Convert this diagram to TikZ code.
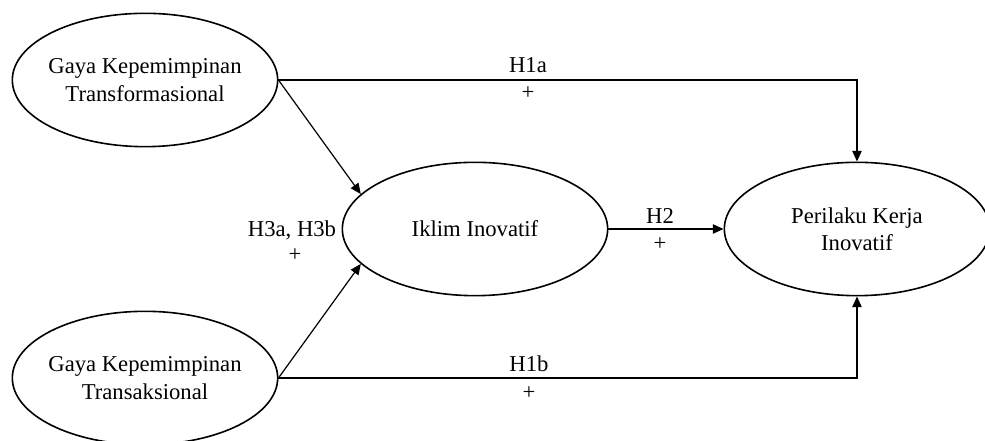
\documentclass[tikz,border=0pt]{standalone}
\usepackage{fontspec}
\setmainfont{Liberation Serif}
\usetikzlibrary{arrows.meta, positioning, shapes.geometric}

\tikzset{
  construct/.style={draw, ellipse, line width=1.2pt, inner xsep=-6pt, inner ysep=0pt,
      minimum width=199pt, minimum height=100pt, align=center,
      font=\fontsize{17}{20.5}\selectfont},
  patharrow/.style={-{Triangle[length=8pt,width=7pt]}, line width=0.9pt},
  hyplabel/.style={font=\fontsize{17}{20}\selectfont, inner sep=0pt}
}

\begin{document}
\begin{tikzpicture}[x=0.75pt, y=0.75pt]
\useasboundingbox (0,0) rectangle (985,441);

% Constructs
\node[construct] (tf) at (145,361) {Gaya Kepemimpinan\\Transformasional};
\node[construct] (ta) at (145,63) {Gaya Kepemimpinan\\Transaksional};
\node[construct] (ik) at (475,212) {Iklim Inovatif};
\node[construct] (pk) at (857,212) {Perilaku Kerja\\Inovatif};

% Direct paths
\draw[patharrow] (tf.east) -| (pk.north);
\draw[patharrow] (ta.east) -| (pk.south);
\draw[patharrow] (ik.east) -- (pk.west);

% Paths to the mediator
\draw[patharrow] (tf.east) -- (ik.163);
\draw[patharrow] (ta.east) -- (ik.197);

% Hypothesis labels
\node[hyplabel] (h1a) at (528,376) {H1a};
\node[hyplabel] (h1aplus) at (528,348) {+};
\node[hyplabel] (h1b) at (529,77) {H1b};
\node[hyplabel] (h1bplus) at (529,48) {+};
\node[hyplabel] (h2) at (660,225) {H2};
\node[hyplabel] (h2plus) at (660,197) {+};
\node[hyplabel] (h3) at (292,211) {H3a, H3b};
\node[hyplabel] (h3plus) at (295,186) {+};

\end{tikzpicture}
\end{document}
